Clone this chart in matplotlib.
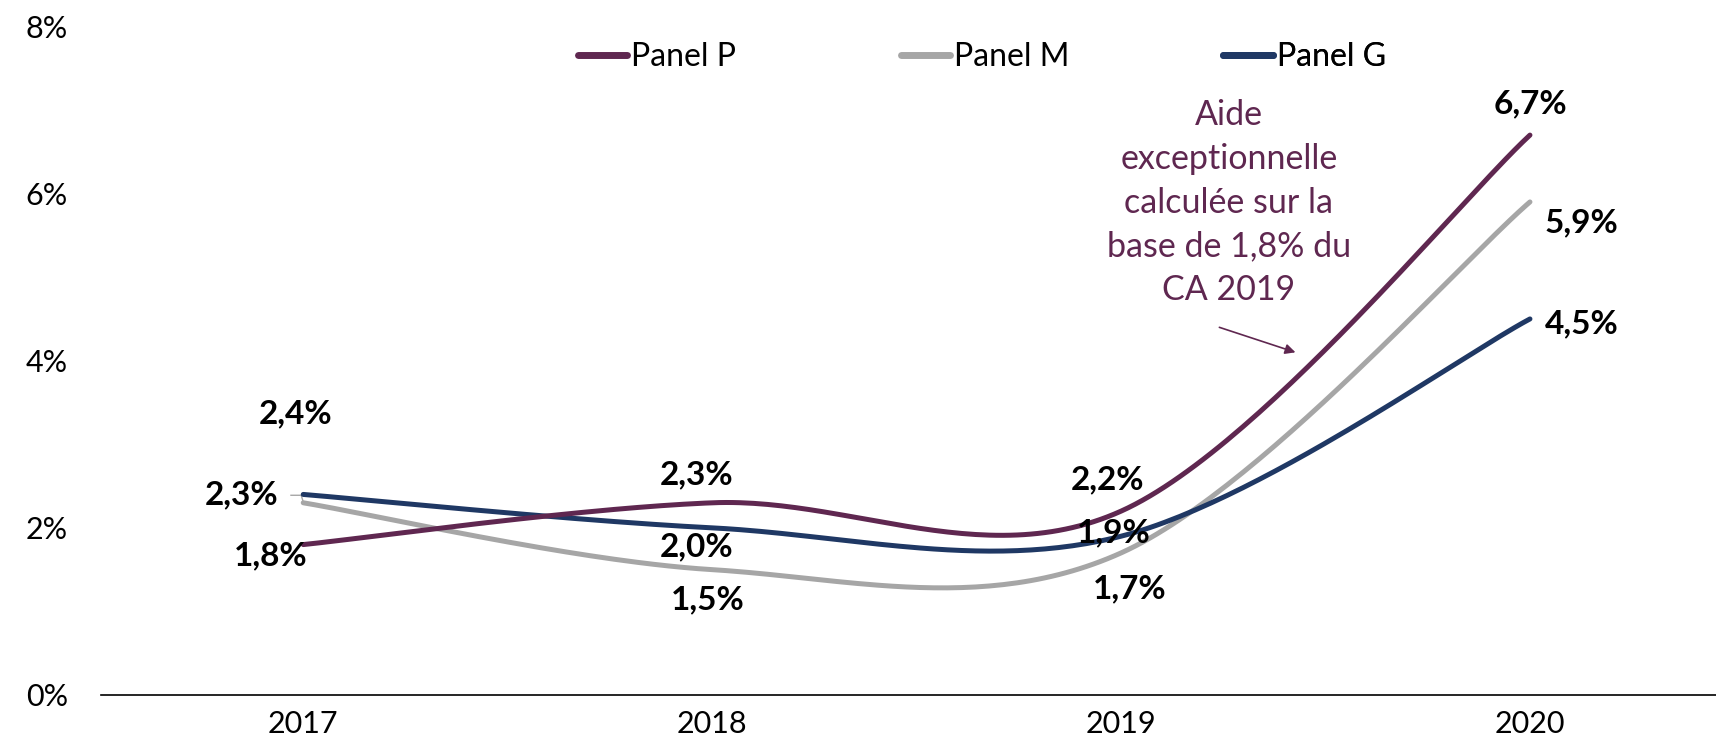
import numpy as np
import matplotlib
matplotlib.use("Agg")
import matplotlib.pyplot as plt
from matplotlib.lines import Line2D

plt.rcParams['font.family'] = ['Lato', 'DejaVu Sans']

years = ["2017", "2018", "2019", "2020"]
panel_p = [1.8, 2.3, 2.2, 6.7]
panel_m = [2.3, 1.5, 1.7, 5.9]
panel_g = [2.4, 2.0, 1.9, 4.5]
series_names = ["Panel P", "Panel M", "Panel G"]
colors = ["#5F2750", "#A6A6A6", "#1F3864"]
yticks = [0, 2, 4, 6, 8]
annotation_text = "Aide\nexceptionnelle\ncalculée sur la\nbase de 1,8% du\nCA 2019"

# label positions (data units) per series per point
label_pos = {
    0: [(-0.08, 1.66), (0.963, 2.64), (1.966, 2.58), (3.0, 7.07)],
    1: [(-0.15, 2.39), (0.988, 1.14), (2.02, 1.27), (3.127, 5.65)],
    2: [(-0.02, 3.37), (0.963, 1.77), (1.983, 1.94), (3.127, 4.44)],
}


def smooth(xs, ys, n=60):
    xs = np.asarray(xs, float)
    ys = np.asarray(ys, float)
    pts = np.column_stack([xs, ys])
    out = []
    N = len(pts)
    for i in range(N - 1):
        p0 = pts[i - 1] if i > 0 else pts[i]
        p1 = pts[i]
        p2 = pts[i + 1]
        p3 = pts[i + 2] if i + 2 < N else pts[i + 1]
        c1 = p1 + (p2 - p0) / 6.0
        c2 = p2 - (p3 - p1) / 6.0
        t = np.linspace(0, 1, n)[:, None]
        seg = ((1 - t) ** 3) * p1 + 3 * ((1 - t) ** 2) * t * c1 + 3 * (1 - t) * t ** 2 * c2 + t ** 3 * p2
        out.append(seg if i == 0 else seg[1:])
    seg = np.vstack(out)
    return seg[:, 0], seg[:, 1]


fig = plt.figure(figsize=(17.16, 7.56), dpi=100)
ax = fig.add_axes([0.059, 0.0807, 0.941, 0.8843])

x = np.arange(len(years))
all_series = [panel_p, panel_m, panel_g]
for k in [1, 2, 0]:
    vals = all_series[k]
    sx, sy = smooth(x, vals)
    ax.plot(sx, sy, color=colors[k], lw=3.6, solid_capstyle='round', zorder=3)

for k, vals in enumerate(all_series):
    for i, v in enumerate(vals):
        lx, ly = label_pos[k][i]
        ax.text(lx, ly, f"{v:.1f}%".replace('.', ','), ha='center', va='center',
                fontsize=24, fontweight='bold', color='black', zorder=5)

# leader line for grey 2017 label
ax.plot([-0.03, -0.005, 0.0], [2.39, 2.39, 2.31], color='#A6A6A6', lw=1, zorder=2)

ax.text(2.264, 5.89, annotation_text, ha='center', va='center', fontsize=24.5,
        color=colors[0], linespacing=1.45)
ax.annotate("", xy=(2.433, 4.09), xytext=(2.234, 4.41),
            arrowprops=dict(arrowstyle='-|>', color=colors[0], lw=1.2, mutation_scale=15))

ax.set_xlim(-0.494, 3.455)
ax.set_ylim(0, 8)
ax.set_yticks(yticks)
ax.set_yticklabels([f"{t}%" for t in yticks], fontsize=22)
ax.set_xticks(x)
ax.set_xticklabels(years, fontsize=22)
ax.tick_params(axis='y', length=0, pad=24)
ax.tick_params(axis='x', length=0, pad=11)
for s in ['top', 'right', 'left']:
    ax.spines[s].set_visible(False)
ax.spines['bottom'].set_linewidth(1.2)
ax.spines['bottom'].set_color('black')

legend_x = [0.295, 0.495, 0.695]
for k in range(3):
    h = Line2D([0], [0], color=colors[k], lw=5, solid_capstyle='round')
    leg = ax.legend([h], [series_names[k]], loc='center left', bbox_to_anchor=(legend_x[k], 0.954),
                    frameon=False, fontsize=23, handlelength=1.55, handletextpad=0.12,
                    borderaxespad=0, borderpad=0)
    ax.add_artist(leg)

fig.savefig("out.png", dpi=100)
